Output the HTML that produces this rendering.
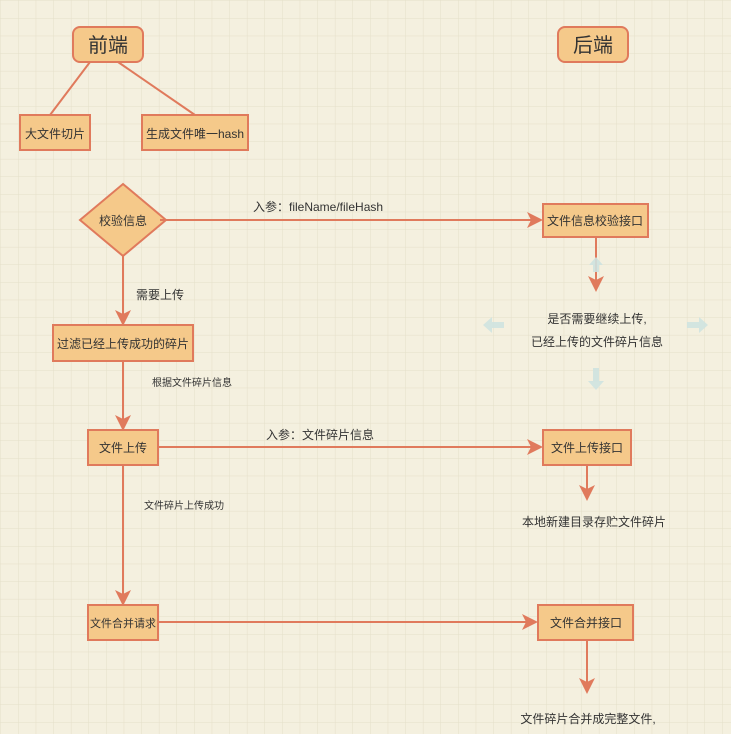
<!DOCTYPE html>
<html><head><meta charset="utf-8"><style>
html,body{margin:0;padding:0;background:#f4f0df;}
svg{display:block;font-family:"Liberation Sans","Noto Sans CJK SC",sans-serif;}
</style></head><body>
<svg width="731" height="734" viewBox="0 0 731 734" xmlns="http://www.w3.org/2000/svg">
<defs>
<pattern id="g" width="17.6" height="17.6" patternUnits="userSpaceOnUse" x="1" y="1">
<path d="M17.6 0V17.6H0" fill="none" stroke="#e4dfc9" stroke-width="1"/>
</pattern>
<marker id="b" markerWidth="16" markerHeight="16" refX="14" refY="8" orient="auto" markerUnits="userSpaceOnUse" viewBox="0 0 16 16">
<path d="M0 0L16 8L0 16L4 8Z" fill="#e07a5c"/>
</marker>
</defs>
<rect width="731" height="734" fill="#f4f0df"/>
<rect width="731" height="734" fill="url(#g)"/>
<g stroke="#e07a5c" stroke-width="2" fill="#f5c98a">
<rect x="73" y="27" width="70" height="35" rx="7"/>
<rect x="558" y="27" width="70" height="35" rx="7"/>
<rect x="20" y="115" width="70" height="35"/>
<rect x="142" y="115" width="106" height="35"/>
<path d="M123 184L166 220L123 256L80 220Z"/>
<rect x="543" y="204" width="105" height="33"/>
<rect x="53" y="325" width="140" height="36"/>
<rect x="88" y="430" width="70" height="35"/>
<rect x="543" y="430" width="88" height="35"/>
<rect x="88" y="605" width="70" height="35"/>
<rect x="538" y="605" width="95" height="35"/>
</g>
<g stroke="#e07a5c" stroke-width="2" fill="none">
<line x1="90" y1="62" x2="50" y2="115"/>
<line x1="118" y1="62" x2="195" y2="115"/>
<line x1="160" y1="220" x2="541" y2="220" marker-end="url(#b)"/>
<line x1="596" y1="237" x2="596" y2="290" marker-end="url(#b)"/>
<line x1="123" y1="256" x2="123" y2="324" marker-end="url(#b)"/>
<line x1="123" y1="361" x2="123" y2="429" marker-end="url(#b)"/>
<line x1="158" y1="447" x2="541" y2="447" marker-end="url(#b)"/>
<line x1="587" y1="465" x2="587" y2="499" marker-end="url(#b)"/>
<line x1="123" y1="465" x2="123" y2="604" marker-end="url(#b)"/>
<line x1="158" y1="622" x2="536" y2="622" marker-end="url(#b)"/>
<line x1="587" y1="640" x2="587" y2="692" marker-end="url(#b)"/>
</g>
<g fill="#cfe3e0" opacity="0.9">
<path d="M596 257L603 265H599V272H593V265H589Z"/>
<path d="M483 325L492 317V322H504V328H492V333Z"/>
<path d="M708 325L699 317V322H687V328H699V333Z"/>
<path d="M596 390L588 381H593V368H599V381H604Z"/>
</g>
<g fill="#333" text-anchor="middle">
<text x="108" y="52" font-size="20">前端</text>
<text x="593" y="52" font-size="20">后端</text>
<text x="55" y="138" font-size="12">大文件切片</text>
<text x="195" y="138" font-size="12">生成文件唯一hash</text>
<text x="123" y="225" font-size="12">校验信息</text>
<text x="595" y="225" font-size="12">文件信息校验接口</text>
<text x="123" y="348" font-size="12">过滤已经上传成功的碎片</text>
<text x="123" y="452" font-size="12">文件上传</text>
<text x="587" y="452" font-size="12">文件上传接口</text>
<text x="123" y="627" font-size="11">文件合并请求</text>
<text x="586" y="627" font-size="12">文件合并接口</text>
<text x="597" y="323" font-size="12">是否需要继续上传,</text>
<text x="597" y="346" font-size="12">已经上传的文件碎片信息</text>
<text x="594" y="526" font-size="12">本地新建目录存贮文件碎片</text>
<text x="588" y="723" font-size="12">文件碎片合并成完整文件,</text>
</g>
<g fill="#333">
<text x="253" y="211" font-size="12">入参：fileName/fileHash</text>
<text x="266" y="439" font-size="12">入参：文件碎片信息</text>
<text x="136" y="299" font-size="12">需要上传</text>
<text x="152" y="386" font-size="10">根据文件碎片信息</text>
<text x="144" y="509" font-size="10">文件碎片上传成功</text>
</g>
</svg>
</body></html>
